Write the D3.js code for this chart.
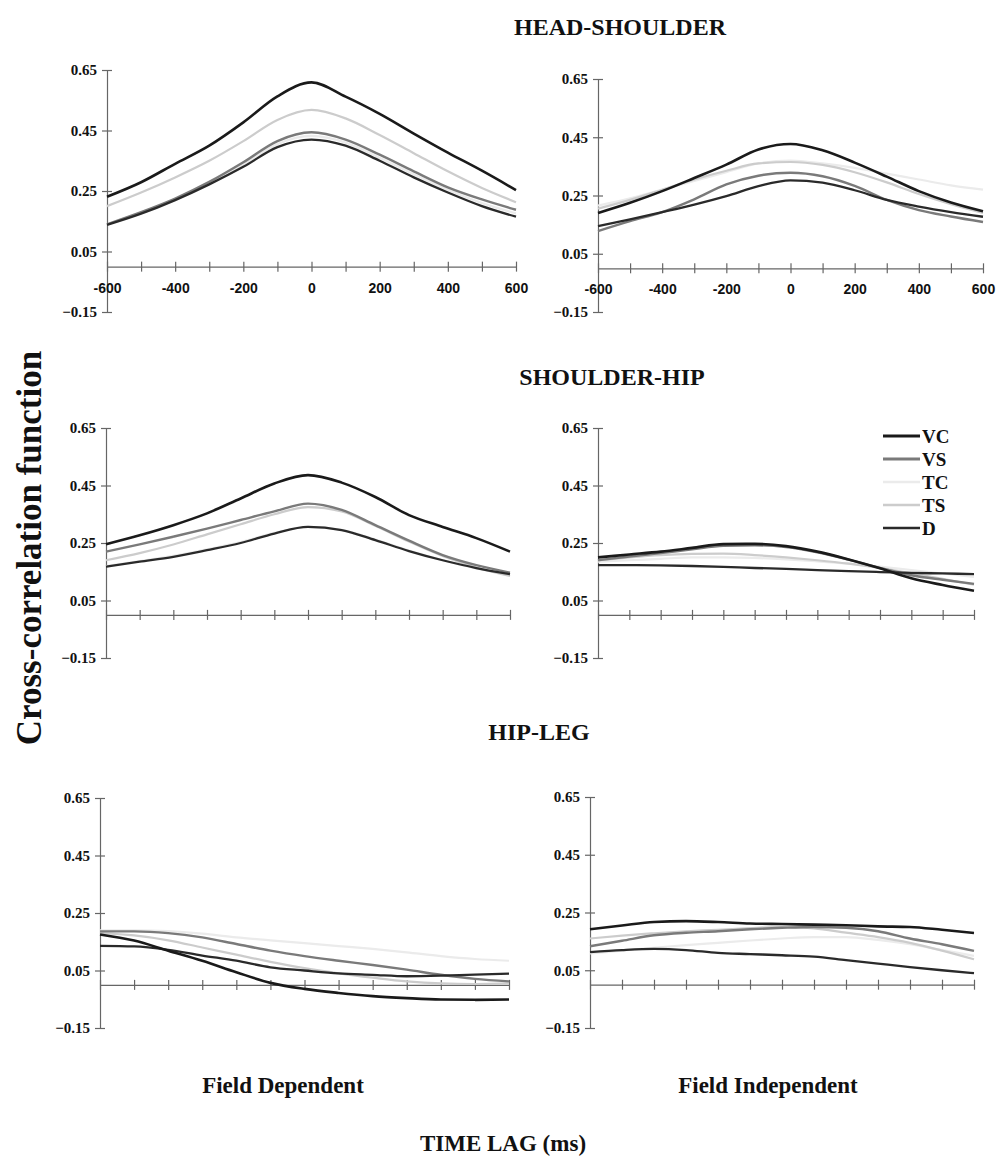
<!DOCTYPE html>
<html>
<head>
<meta charset="utf-8">
<script src="https://cdn.jsdelivr.net/npm/d3@7"></script>
<style>
  body { margin: 0; background: #fff; }
  svg { display: block; }
</style>
</head>
<body>
<script>
// time lags (ms)
const lags = [-600, -500, -400, -300, -200, -100, 0, 100, 200, 300, 400, 500, 600];
const yTicks = [-0.15, 0.05, 0.25, 0.45, 0.65];
const xLabelTicks = [-600, -400, -200, 0, 200, 400, 600];
const seriesNames = ['VC', 'VS', 'TC', 'TS', 'D'];

// HEAD-SHOULDER
const headShoulderFD = {
  VC: [0.231, 0.279, 0.34, 0.40, 0.477, 0.563, 0.609, 0.562, 0.505, 0.44, 0.377, 0.317, 0.253],
  VS: [0.14, 0.18, 0.225, 0.28, 0.345, 0.415, 0.444, 0.42, 0.37, 0.315, 0.262, 0.222, 0.188],
  TC: [0.14, 0.178, 0.222, 0.275, 0.338, 0.405, 0.432, 0.41, 0.36, 0.305, 0.254, 0.21, 0.176],
  TS: [0.20, 0.245, 0.295, 0.35, 0.415, 0.485, 0.518, 0.49, 0.435, 0.375, 0.315, 0.26, 0.213],
  D:  [0.138, 0.175, 0.22, 0.272, 0.33, 0.395, 0.42, 0.40, 0.35, 0.295, 0.245, 0.2, 0.165]
};
const headShoulderFI = {
  VC: [0.19, 0.225, 0.265, 0.31, 0.356, 0.408, 0.427, 0.405, 0.363, 0.315, 0.265, 0.226, 0.196],
  VS: [0.128, 0.162, 0.193, 0.237, 0.288, 0.318, 0.328, 0.316, 0.283, 0.235, 0.2, 0.178, 0.159],
  TC: [0.215, 0.24, 0.27, 0.30, 0.33, 0.36, 0.37, 0.36, 0.345, 0.325, 0.305, 0.285, 0.27],
  TS: [0.205, 0.235, 0.27, 0.305, 0.335, 0.36, 0.365, 0.355, 0.33, 0.295, 0.255, 0.22, 0.19],
  D:  [0.145, 0.168, 0.193, 0.219, 0.248, 0.282, 0.302, 0.294, 0.268, 0.235, 0.212, 0.193, 0.177]
};
// SHOULDER-HIP
const shoulderHipFD = {
  VC: [0.246, 0.277, 0.312, 0.353, 0.405, 0.457, 0.486, 0.46, 0.41, 0.347, 0.306, 0.267, 0.22],
  VS: [0.22, 0.245, 0.272, 0.30, 0.33, 0.36, 0.387, 0.365, 0.312, 0.258, 0.208, 0.173, 0.147],
  TC: [0.17, 0.187, 0.205, 0.228, 0.253, 0.285, 0.306, 0.296, 0.262, 0.224, 0.19, 0.162, 0.14],
  TS: [0.19, 0.215, 0.245, 0.28, 0.315, 0.35, 0.375, 0.36, 0.31, 0.255, 0.205, 0.165, 0.135],
  D:  [0.168, 0.185, 0.202, 0.225, 0.25, 0.283, 0.306, 0.295, 0.26, 0.222, 0.19, 0.163, 0.142]
};
const shoulderHipFI = {
  VC: [0.20, 0.21, 0.22, 0.233, 0.246, 0.247, 0.239, 0.22, 0.193, 0.162, 0.127, 0.104, 0.084],
  VS: [0.19, 0.203, 0.215, 0.228, 0.24, 0.242, 0.236, 0.218, 0.192, 0.163, 0.138, 0.122, 0.108],
  TC: [0.185, 0.19, 0.195, 0.2, 0.2, 0.198, 0.193, 0.186, 0.178, 0.168, 0.156, 0.144, 0.132],
  TS: [0.19, 0.2, 0.208, 0.212, 0.213, 0.208, 0.2, 0.19, 0.178, 0.163, 0.145, 0.125, 0.105],
  D:  [0.173, 0.173, 0.172, 0.17, 0.167, 0.163, 0.16, 0.156, 0.152, 0.149, 0.146, 0.144, 0.142]
};
// HIP-LEG
const hipLegFD = {
  VC: [0.175, 0.154, 0.119, 0.084, 0.044, 0.007, -0.014, -0.028, -0.039, -0.046, -0.051, -0.052, -0.051],
  VS: [0.186, 0.186, 0.18, 0.165, 0.142, 0.119, 0.1, 0.084, 0.069, 0.053, 0.035, 0.021, 0.012],
  TC: [0.19, 0.19, 0.187, 0.178, 0.165, 0.155, 0.145, 0.135, 0.125, 0.113, 0.1, 0.09, 0.084],
  TS: [0.18, 0.172, 0.155, 0.13, 0.105, 0.08, 0.058, 0.04, 0.025, 0.012, 0.005, 0.003, 0.005],
  D:  [0.136, 0.134, 0.122, 0.102, 0.084, 0.061, 0.05, 0.04, 0.035, 0.03, 0.032, 0.036, 0.039]
};
const hipLegFI = {
  VC: [0.192, 0.205, 0.217, 0.22, 0.217, 0.212, 0.21, 0.208, 0.206, 0.202, 0.2, 0.19, 0.179],
  VS: [0.133, 0.152, 0.171, 0.18, 0.185, 0.192, 0.197, 0.2, 0.197, 0.185, 0.16, 0.14, 0.117],
  TC: [0.108, 0.118, 0.128, 0.137, 0.145, 0.153, 0.16, 0.165, 0.165, 0.155, 0.14, 0.12, 0.1],
  TS: [0.16, 0.17, 0.178, 0.185, 0.19, 0.196, 0.2, 0.195, 0.18, 0.165, 0.145, 0.118, 0.088],
  D:  [0.113, 0.12, 0.124, 0.12, 0.11, 0.106, 0.102, 0.097, 0.085, 0.073, 0.061, 0.05, 0.04]
};

const colors = { VC: '#1a1a1a', VS: '#7a7a7a', TC: '#ebebeb', TS: '#cccccc', D: '#2a2a2a' };
const widths = { VC: 2.6, VS: 2.4, TC: 2.2, TS: 2.2, D: 2.3 };
const drawOrder = ['TC', 'TS', 'VS', 'D', 'VC'];

const svgWidth = 1006;
const svgHeight = 1157;
const serif = "'Liberation Serif', 'Times New Roman', serif";

const svg = d3.select('body')
  .append('svg')
  .attr('width', svgWidth)
  .attr('height', svgHeight);

// panel boxes: axis left/right, top (0.65) and bottom (-0.15)
const panels = [
  { data: headShoulderFD, x0: 107, x1: 516, top: 70, bottom: 312, labels: true },
  { data: headShoulderFI, x0: 598, x1: 983, top: 79, bottom: 312, labels: true },
  { data: shoulderHipFD, x0: 106, x1: 510, top: 428, bottom: 658, labels: false },
  { data: shoulderHipFI, x0: 598, x1: 974, top: 428, bottom: 658, labels: false, legend: true },
  { data: hipLegFD, x0: 100, x1: 509, top: 798, bottom: 1028, labels: false },
  { data: hipLegFI, x0: 590, x1: 974, top: 797, bottom: 1028, labels: false }
];

panels.forEach(p => {
  const xScale = d3.scaleLinear().domain([-600, 600]).range([p.x0, p.x1]);
  const yScale = d3.scaleLinear().domain([-0.15, 0.65]).range([p.bottom, p.top]);

  const g = svg.append('g');

  // y axis
  const yAxis = d3.axisLeft(yScale)
    .tickValues(yTicks)
    .tickSize(5)
    .tickSizeOuter(0)
    .tickPadding(5)
    .tickFormat(d3.format('.2f'));
  const ya = g.append('g')
    .attr('transform', `translate(${p.x0},0)`)
    .call(yAxis);
  ya.selectAll('.tick line').attr('x1', 5);
  ya.selectAll('text')
    .attr('font-family', serif)
    .attr('font-weight', 'bold')
    .attr('font-size', 15)
    .attr('fill', '#111');

  // x axis at zero
  const xAxis = d3.axisBottom(xScale)
    .tickValues(d3.range(-600, 601, 100))
    .tickSize(5)
    .tickSizeOuter(0)
    .tickFormat(d => (p.labels && xLabelTicks.includes(d)) ? d : '');
  const xa = g.append('g')
    .attr('transform', `translate(0,${yScale(0)})`)
    .call(xAxis);
  xa.selectAll('.tick line').attr('y1', -5);
  xa.selectAll('text')
    .attr('y', 16)
    .attr('font-family', "'Liberation Sans', Arial, sans-serif")
    .attr('font-weight', 'bold')
    .attr('font-size', 14)
    .attr('fill', '#111');

  g.selectAll('.domain, .tick line')
    .attr('stroke', '#666')
    .attr('stroke-width', 1.2);

  const line = d3.line()
    .x((d, i) => xScale(lags[i]))
    .y(d => yScale(d))
    .curve(d3.curveMonotoneX);

  g.selectAll('path.series')
    .data(drawOrder)
    .enter()
    .append('path')
    .attr('class', 'series')
    .attr('d', name => line(p.data[name]))
    .attr('fill', 'none')
    .attr('stroke', name => colors[name])
    .attr('stroke-width', name => widths[name]);

  if (p.legend) {
    const lg = g.append('g').attr('transform', 'translate(883,436)');
    const rows = lg.selectAll('g')
      .data(seriesNames)
      .enter()
      .append('g')
      .attr('transform', (d, i) => `translate(0,${i * 23})`);
    rows.append('line')
      .attr('x1', 0).attr('x2', 37)
      .attr('stroke', d => colors[d])
      .attr('stroke-width', d => widths[d] + 0.4);
    rows.append('text')
      .attr('x', 39)
      .attr('dy', '0.35em')
      .attr('font-family', serif)
      .attr('font-weight', 'bold')
      .attr('font-size', 19)
      .attr('fill', '#111')
      .text(d => d);
  }
});

// row titles
const titles = [
  { text: 'HEAD-SHOULDER', x: 620, y: 27 },
  { text: 'SHOULDER-HIP', x: 612, y: 377 },
  { text: 'HIP-LEG', x: 539, y: 732 }
];
svg.selectAll('text.title')
  .data(titles)
  .enter()
  .append('text')
  .attr('class', 'title')
  .attr('x', d => d.x)
  .attr('y', d => d.y)
  .attr('dy', '0.35em')
  .attr('text-anchor', 'middle')
  .attr('font-family', serif)
  .attr('font-weight', 'bold')
  .attr('font-size', 24)
  .attr('fill', '#111')
  .text(d => d.text);

// column labels and x title
const bottomLabels = [
  { text: 'Field Dependent', x: 283, y: 1085 },
  { text: 'Field Independent', x: 768, y: 1085 },
  { text: 'TIME LAG (ms)', x: 503, y: 1143 }
];
svg.selectAll('text.bottom')
  .data(bottomLabels)
  .enter()
  .append('text')
  .attr('class', 'bottom')
  .attr('x', d => d.x)
  .attr('y', d => d.y)
  .attr('dy', '0.35em')
  .attr('text-anchor', 'middle')
  .attr('font-family', serif)
  .attr('font-weight', 'bold')
  .attr('font-size', 23)
  .attr('fill', '#111')
  .text(d => d.text);

// y title
svg.append('text')
  .attr('transform', 'translate(29,548) rotate(-90)')
  .attr('dy', '0.35em')
  .attr('text-anchor', 'middle')
  .attr('font-family', serif)
  .attr('font-weight', 'bold')
  .attr('font-size', 35)
  .attr('fill', '#111')
  .text('Cross-correlation function');
</script>
</body>
</html>
